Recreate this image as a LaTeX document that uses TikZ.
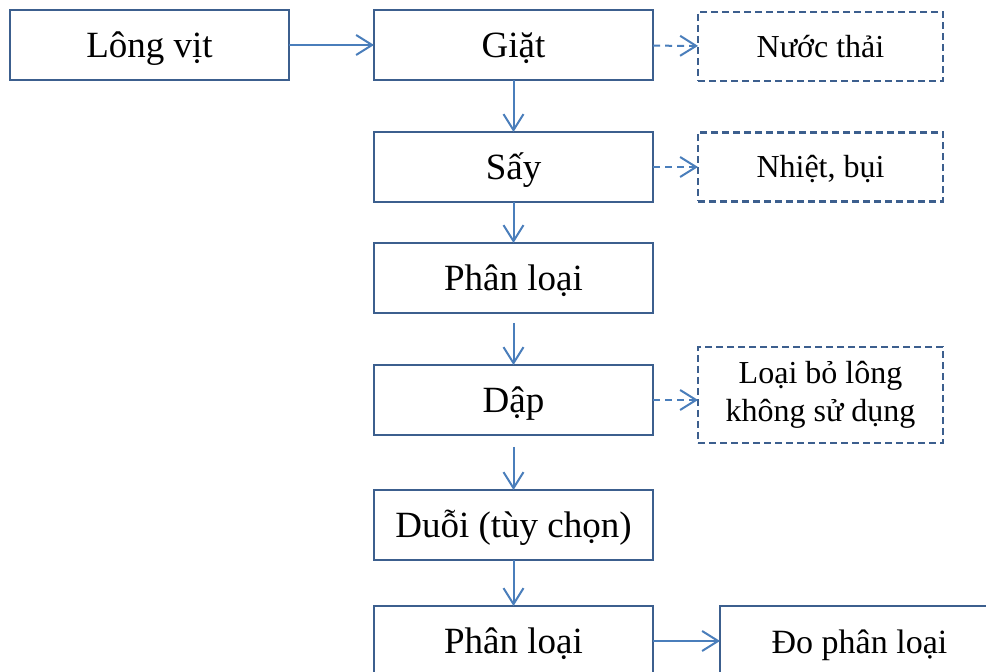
\documentclass[tikz,border=0pt]{standalone}
\usepackage{fontspec}
\setmainfont{Liberation Serif}
\usepackage{tikz}
\usetikzlibrary{positioning,arrows.meta}
\definecolor{BoxBlue}{HTML}{3C5F8E}
\definecolor{ArrowBlue}{HTML}{4A7EBB}

\begin{document}
\begin{tikzpicture}[node distance=26pt,
    every node/.style={font=\fontsize{18.5}{22}\selectfont, text height=14pt, text depth=1.8pt},
    stepbox/.style={draw=BoxBlue, line width=1.4pt, minimum width=139.5pt, minimum height=35pt, inner sep=0pt, outer sep=0pt},
    wastebox/.style={draw=BoxBlue, line width=1.2pt, dash pattern=on 3.5pt off 2pt, minimum width=122.5pt, minimum height=34.5pt, inner sep=0pt, outer sep=0pt, align=center, font=\fontsize{16}{19}\selectfont, text height=12.6pt, text depth=2pt},
    flow/.style={draw=ArrowBlue, line width=1pt, -{Straight Barb[length=8pt,width=10pt]}},
    waste/.style={flow, dash pattern=on 3.5pt off 2.5pt}]
      \clip (0,0) rectangle (493pt,-336pt);
      \node[stepbox] (giat) at (256.75pt,-22.5pt) {Giặt};
      \node[stepbox, left=42.5pt of giat] (longvit) {Lông vịt};
      \node[stepbox, below=26pt of giat] (say) {Sấy};
      \node[stepbox, below=20.5pt of say] (phanloai) {Phân loại};
      \node[stepbox, below=26pt of phanloai] (dap) {Dập};
      \node[stepbox, below=27.5pt of dap] (duoi) {Duỗi (tùy chọn)};
      \node[stepbox, below=23pt of duoi] (phanloaib) {Phân loại};
      \node[stepbox, right=33.5pt of phanloaib, font=\fontsize{17}{20}\selectfont] (dophanloai) {Đo phân loại};
      \node[wastebox, right=22.5pt of giat, yshift=-0.75pt] (nuocthai) {Nước thải};
      \node[wastebox, right=22.5pt of say] (nhiet) {Nhiệt, bụi};
      \node[wastebox, right=22.5pt of dap, yshift=2.5pt, minimum height=48pt, text height=, text depth=] (loaibo) {Loại bỏ lông\\không sử dụng};
      % main flow
      \draw[flow] (longvit) -- (giat);
      \draw[flow] (giat) -- (say);
      \draw[flow] (say) -- (phanloai);
      \draw[flow, shorten <=5pt] (phanloai) -- (dap);
      \draw[flow, shorten <=6pt] (dap) -- (duoi);
      \draw[flow] (duoi) -- (phanloaib);
      \draw[flow] (phanloaib) -- (dophanloai);
      % by-products
      \draw[waste] (giat) -- (nuocthai);
      \draw[waste] (say) -- (nhiet);
      \draw[waste] (dap) -- (dap -| loaibo.west);
    \end{tikzpicture}
\end{document}
